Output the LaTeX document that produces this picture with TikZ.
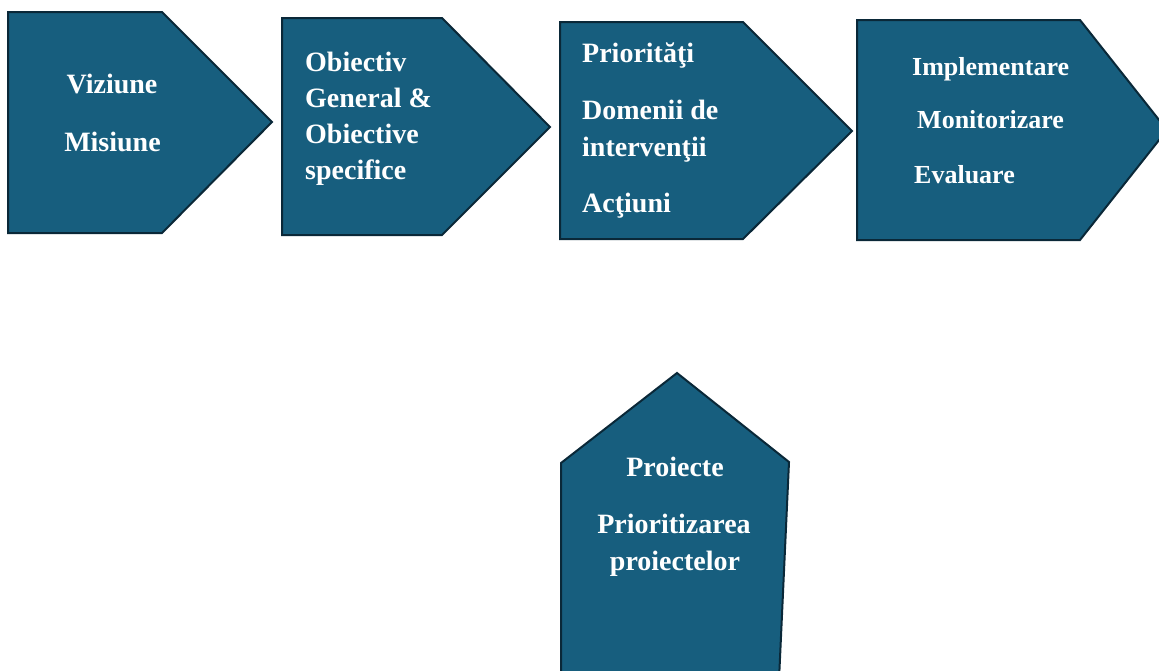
\documentclass[tikz,border=0pt]{standalone}
\usepackage{fontspec}
\setmainfont{Liberation Serif}
\definecolor{boxfill}{RGB}{23,94,126}
\definecolor{boxline}{RGB}{10,40,56}
\begin{document}
\begin{tikzpicture}[x=1pt,y=-1pt,
  shapebox/.style={fill=boxfill,draw=boxline,line width=2pt,line join=miter},
  lbl/.style={text=white,font=\bfseries\fontsize{28}{34}\selectfont,inner sep=0pt},
  lblsm/.style={text=white,font=\bfseries\fontsize{26}{32}\selectfont,inner sep=0pt}]
\useasboundingbox (0,0) rectangle (1159,670);
\clip (0,0) rectangle (1159,670);
% shape 1
\draw[shapebox] (8,12) -- (162,12) -- (272,122) -- (162,233) -- (8,233) -- cycle;
% shape 2
\draw[shapebox] (282,18) -- (442,18) -- (550,127) -- (442,235) -- (282,235) -- cycle;
% shape 3
\draw[shapebox] (560,22) -- (743,22) -- (852,131) -- (743,239) -- (560,239) -- cycle;
% shape 4
\draw[shapebox] (857,20) -- (1080,20) -- (1167,130) -- (1080,240) -- (857,240) -- cycle;
% shape 5
\draw[shapebox] (561,680) -- (561,463) -- (677,373) -- (789,462) -- (779,680) -- cycle;
% texts
\node[lbl,anchor=base] (t1a) at (112,93) {Viziune};
\node[lbl,anchor=base] (t1b) at (112.5,151) {Misiune};
\node[lbl,anchor=base west] (t2a) at (305,71) {Obiectiv};
\node[lbl,anchor=base west] (t2b) at (305,107) {General \&};
\node[lbl,anchor=base west] (t2c) at (305,143) {Obiective};
\node[lbl,anchor=base west] (t2d) at (305,179) {specifice};
\node[lbl,anchor=base west] (t3a) at (582,62) {Priorităţi};
\node[lbl,anchor=base west] (t3b) at (582,119) {Domenii de};
\node[lbl,anchor=base west] (t3c) at (582,156) {intervenţii};
\node[lbl,anchor=base west] (t3d) at (582,212) {Acţiuni};
\node[lblsm,anchor=base west] (t4a) at (912,75) {Implementare};
\node[lblsm,anchor=base west] (t4b) at (917,128) {Monitorizare};
\node[lblsm,anchor=base west] (t4c) at (914,183) {Evaluare};
\node[lbl,anchor=base] (t5a) at (675,476) {Proiecte};
\node[lbl,anchor=base] (t5b) at (674,533) {Prioritizarea};
\node[lbl,anchor=base] (t5c) at (675,570) {proiectelor};
\end{tikzpicture}
\end{document}
